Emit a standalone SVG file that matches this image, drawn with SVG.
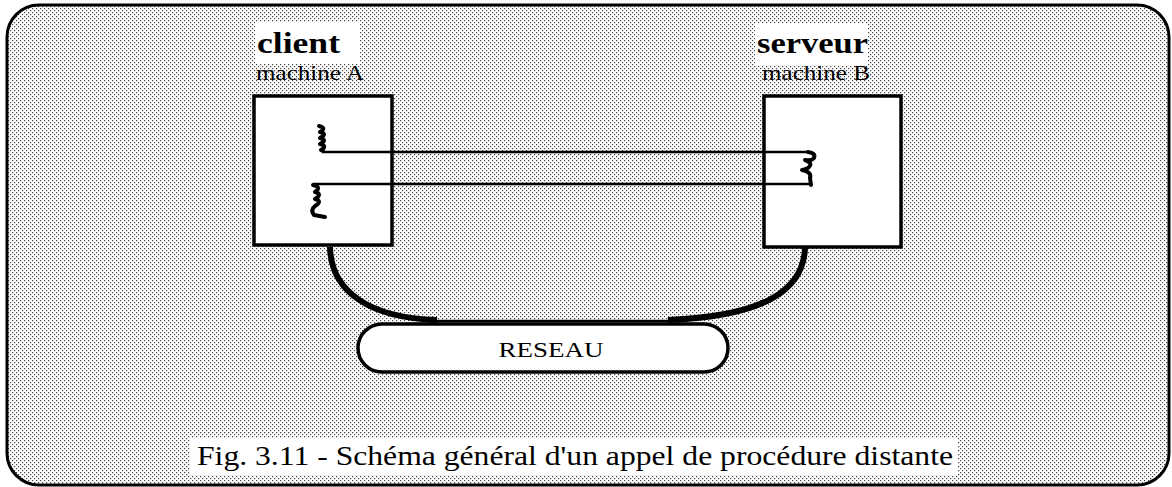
<svg xmlns="http://www.w3.org/2000/svg" width="1172" height="487" viewBox="0 0 1172 487">
<style>
.box{fill:#fff;stroke:#000;stroke-width:3.5}
.lbl{fill:#fff;stroke:none}
.serif{font-family:"Liberation Serif","Times New Roman",serif;fill:#000}
.title{font-weight:bold;font-size:30px}
.sub{font-size:21px}
.wire{fill:none;stroke:#000;stroke-width:2.5}
.coil{fill:none;stroke:#000;stroke-width:4;stroke-linecap:round;stroke-linejoin:round}
.arc{fill:none;stroke:#000;stroke-width:6}
</style>
<defs>
<pattern id="dots" width="4" height="4" patternUnits="userSpaceOnUse">
<rect width="4" height="4" fill="#fff"/>
<rect x="0" y="0" width="1.2" height="1.2" fill="#444"/>
<rect x="2" y="2" width="1.2" height="1.2" fill="#444"/>
</pattern>
</defs>
<g id="frame">
<rect x="7" y="5" width="1162" height="480" rx="32" ry="32" fill="url(#dots)" stroke="#000" stroke-width="3"/>
</g>
<g id="client">
<rect class="lbl" x="255" y="22" width="105" height="42"/>
<text class="serif title" x="257" y="53" textLength="83" lengthAdjust="spacingAndGlyphs">client</text>
<text class="serif sub" x="256" y="80" textLength="108" lengthAdjust="spacingAndGlyphs">machine A</text>
<rect class="box" x="254" y="96" width="138" height="149"/>
</g>
<g id="serveur">
<rect class="lbl" x="755" y="23" width="113" height="42"/>
<text class="serif title" x="757" y="53" textLength="111" lengthAdjust="spacingAndGlyphs">serveur</text>
<text class="serif sub" x="762" y="80" textLength="108" lengthAdjust="spacingAndGlyphs">machine B</text>
<rect class="box" x="764" y="96" width="137" height="151"/>
</g>
<g id="reseau">
<rect class="box" x="358" y="324" width="370" height="48" rx="24" ry="24" stroke-width="3"/>
<text class="serif" x="551" y="357" font-size="22" text-anchor="middle" textLength="105" lengthAdjust="spacingAndGlyphs">RESEAU</text>
</g>
<g id="connectors">
<path class="wire" d="M322,152 H808"/>
<path class="wire" d="M313,184 H810"/>
<path class="coil" d="M319,126 q8,2 1,6 q8,2 0,6 q8,2 0,6 q8,2 1,6 L323,151"/>
<path class="coil" d="M313,185 q9,2 2,7 q8,2 0,7 q8,2 0,7 q-5,4 -1,9 L325,217"/>
<path class="coil" d="M808,152 q8,1 6,6 q-2,3 -9,2 q9,3 3,8 q-4,2 -6,2 q10,2 8,8 L811,185"/>
<path class="arc" d="M330,247 C331,292 370,318 437,320"/>
<path class="arc" d="M805,247 C804,290 765,316 668,320"/>
<path class="wire" d="M436,321 H670"/>
</g>
<g id="caption">
<rect class="lbl" x="190" y="438" width="768" height="37"/>
<text class="serif" x="197" y="465" font-size="28" textLength="756" lengthAdjust="spacingAndGlyphs">Fig. 3.11 - Schéma général d'un appel de procédure distante</text>
</g>
</svg>
